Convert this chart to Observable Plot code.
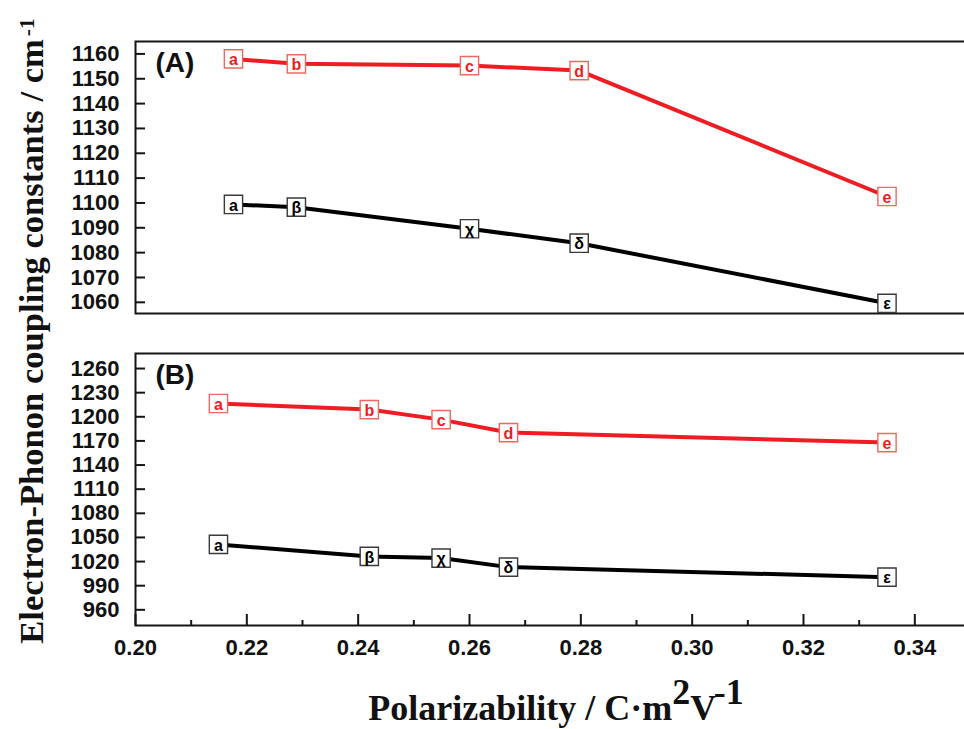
<!DOCTYPE html>
<html><head><meta charset="utf-8">
<script src="https://cdn.jsdelivr.net/npm/d3@7"></script>
<script src="https://cdn.jsdelivr.net/npm/@observablehq/plot@0.6"></script>
<style>
html,body{margin:0;padding:0;background:#fff;overflow:hidden;}
#root{position:relative;width:964px;height:729px;overflow:hidden;background:#fff;}
.plot{position:absolute;left:0;max-width:none !important;}
#ytitle{position:absolute;left:31px;top:331px;transform:translate(-50%,-50%) rotate(-90deg);white-space:nowrap;
  font-family:"Liberation Serif","Times New Roman",serif;font-weight:bold;font-size:34.6px;line-height:1;color:#111;}
#ytitle sup{font-size:0.62em;position:relative;top:-0.4em;vertical-align:baseline;margin-left:3px;}
#xtitle{position:absolute;left:556px;top:690px;transform:translateX(-50%);white-space:nowrap;
  font-family:"Liberation Serif","Times New Roman",serif;font-weight:bold;font-size:36px;line-height:1;color:#111;}
#xtitle sup{font-size:1em;position:relative;top:-0.45em;vertical-align:baseline;}
</style></head><body><div id="root"></div>
<script>
// ---- data ----
const labelsRed = ["a", "b", "c", "d", "e"];
const labelsBlack = ["a", "β", "χ", "δ", "ε"];
// Panel A
const xA = [0.2176, 0.2289, 0.2600, 0.2797, 0.3350];
const redA = [1158.0, 1156.0, 1155.3, 1153.3, 1102.6];
const blackA = [1099.4, 1098.3, 1089.6, 1083.8, 1059.6];
// Panel B
const xB = [0.2149, 0.2420, 0.2549, 0.2670, 0.3350];
const redB = [1216.5, 1209.0, 1196.5, 1180.4, 1167.9];
const blackB = [1041.3, 1026.4, 1024.3, 1013.1, 1000.6];
// ticks
const yTicksA = [1060, 1070, 1080, 1090, 1100, 1110, 1120, 1130, 1140, 1150, 1160];
const yTicksB = [960, 990, 1020, 1050, 1080, 1110, 1140, 1170, 1200, 1230, 1260];
const xTicks = [0.20, 0.22, 0.24, 0.26, 0.28, 0.30, 0.32, 0.34];
const xMinorTicks = [0.21, 0.23, 0.25, 0.27, 0.29, 0.31, 0.33];
const panelLabels = ["(A)", "(B)"];

const RED = "#ee1d23", RED_BOX = "#f0685f", BLACK = "#000", BLACK_BOX = "#3a3a3a", AXIS = "#151515";
const W = 975, ML = 135, MR = 5;
const FONT = "'Liberation Sans', Arial, sans-serif";

function series(xs, ys, labels) {
  return xs.map((x, i) => ({x, y: ys[i], label: labels[i]}));
}

function panel({xs, reds, blacks, yTicks, yDomain, label, height, mt, mb, showX}) {
  const innerH = height - mt - mb;
  const rs = series(xs, reds, labelsRed);
  const bs = series(xs, blacks, labelsBlack);
  const marks = [
    Plot.frame({stroke: AXIS, strokeWidth: 2}),
    Plot.tickY(yTicks, {y: d => d, insetRight: W - ML - MR - 10, stroke: AXIS, strokeWidth: 2}),
    Plot.axisY({ticks: yTicks, tickSize: 0, tickPadding: 16, fontSize: 22, fontWeight: "bold", fill: "#111", label: null, tickFormat: d3.format("d")}),
    Plot.line(bs, {x: "x", y: "y", stroke: BLACK, strokeWidth: 4}),
    Plot.line(rs, {x: "x", y: "y", stroke: RED, strokeWidth: 4}),
    Plot.dot(bs, {x: "x", y: "y", symbol: "square", r: 10.3, fill: "white", stroke: BLACK_BOX, strokeWidth: 1.4}),
    Plot.dot(rs, {x: "x", y: "y", symbol: "square", r: 10.3, fill: "white", stroke: RED_BOX, strokeWidth: 1.4}),
    Plot.text(bs, {x: "x", y: "y", text: "label", fill: BLACK, fontWeight: "bold", fontSize: 16, dy: 1}),
    Plot.text(rs, {x: "x", y: "y", text: "label", fill: RED, fontWeight: "bold", fontSize: 16, dy: 1}),
    Plot.text([label], {frameAnchor: "top-left", dx: 20, dy: 11, fontSize: 28, fontWeight: "bold", fill: "#111", lineAnchor: "top"})
  ];
  if (showX) {
    marks.push(
      Plot.tickX(xTicks, {x: d => d, insetTop: innerH - 11, stroke: AXIS, strokeWidth: 2}),
      Plot.tickX(xMinorTicks, {x: d => d, insetTop: innerH - 5, stroke: AXIS, strokeWidth: 2}),
      Plot.axisX({ticks: xTicks, tickSize: 0, tickPadding: 14, fontSize: 22, fontWeight: "bold", fill: "#111", tickFormat: d3.format(".2f"), label: null})
    );
  }
  const svg = Plot.plot({
    width: W, height, marginLeft: ML, marginRight: MR, marginTop: mt, marginBottom: mb,
    x: {domain: [0.2, 0.35], axis: null},
    y: {domain: yDomain, axis: null},
    style: {fontFamily: FONT, background: "transparent", overflow: "visible", maxWidth: "none"},
    marks
  });
  svg.style.maxWidth = "none";
  svg.style.width = W + "px";
  return svg;
}

const root = document.getElementById("root");
const pA = panel({xs: xA, reds: redA, blacks: blackA, yTicks: yTicksA, yDomain: [1055.5, 1165], label: panelLabels[0], height: 320, mt: 41, mb: 7, showX: false});
pA.classList.add("plot"); pA.style.top = "0px";
const pB = panel({xs: xB, reds: redB, blacks: blackB, yTicks: yTicksB, yDomain: [940.5, 1278.7], label: panelLabels[1], height: 399, mt: 23, mb: 104, showX: true});
pB.classList.add("plot"); pB.style.top = "330px";
root.appendChild(pA);
root.appendChild(pB);

const yt = document.createElement("div");
yt.id = "ytitle";
yt.innerHTML = "Electron-Phonon coupling constants / cm<sup>-1</sup>";
root.appendChild(yt);
const xt = document.createElement("div");
xt.id = "xtitle";
xt.innerHTML = "Polarizability / C·m<sup>2</sup>V<sup>-1</sup>";
root.appendChild(xt);
</script>
</body></html>
